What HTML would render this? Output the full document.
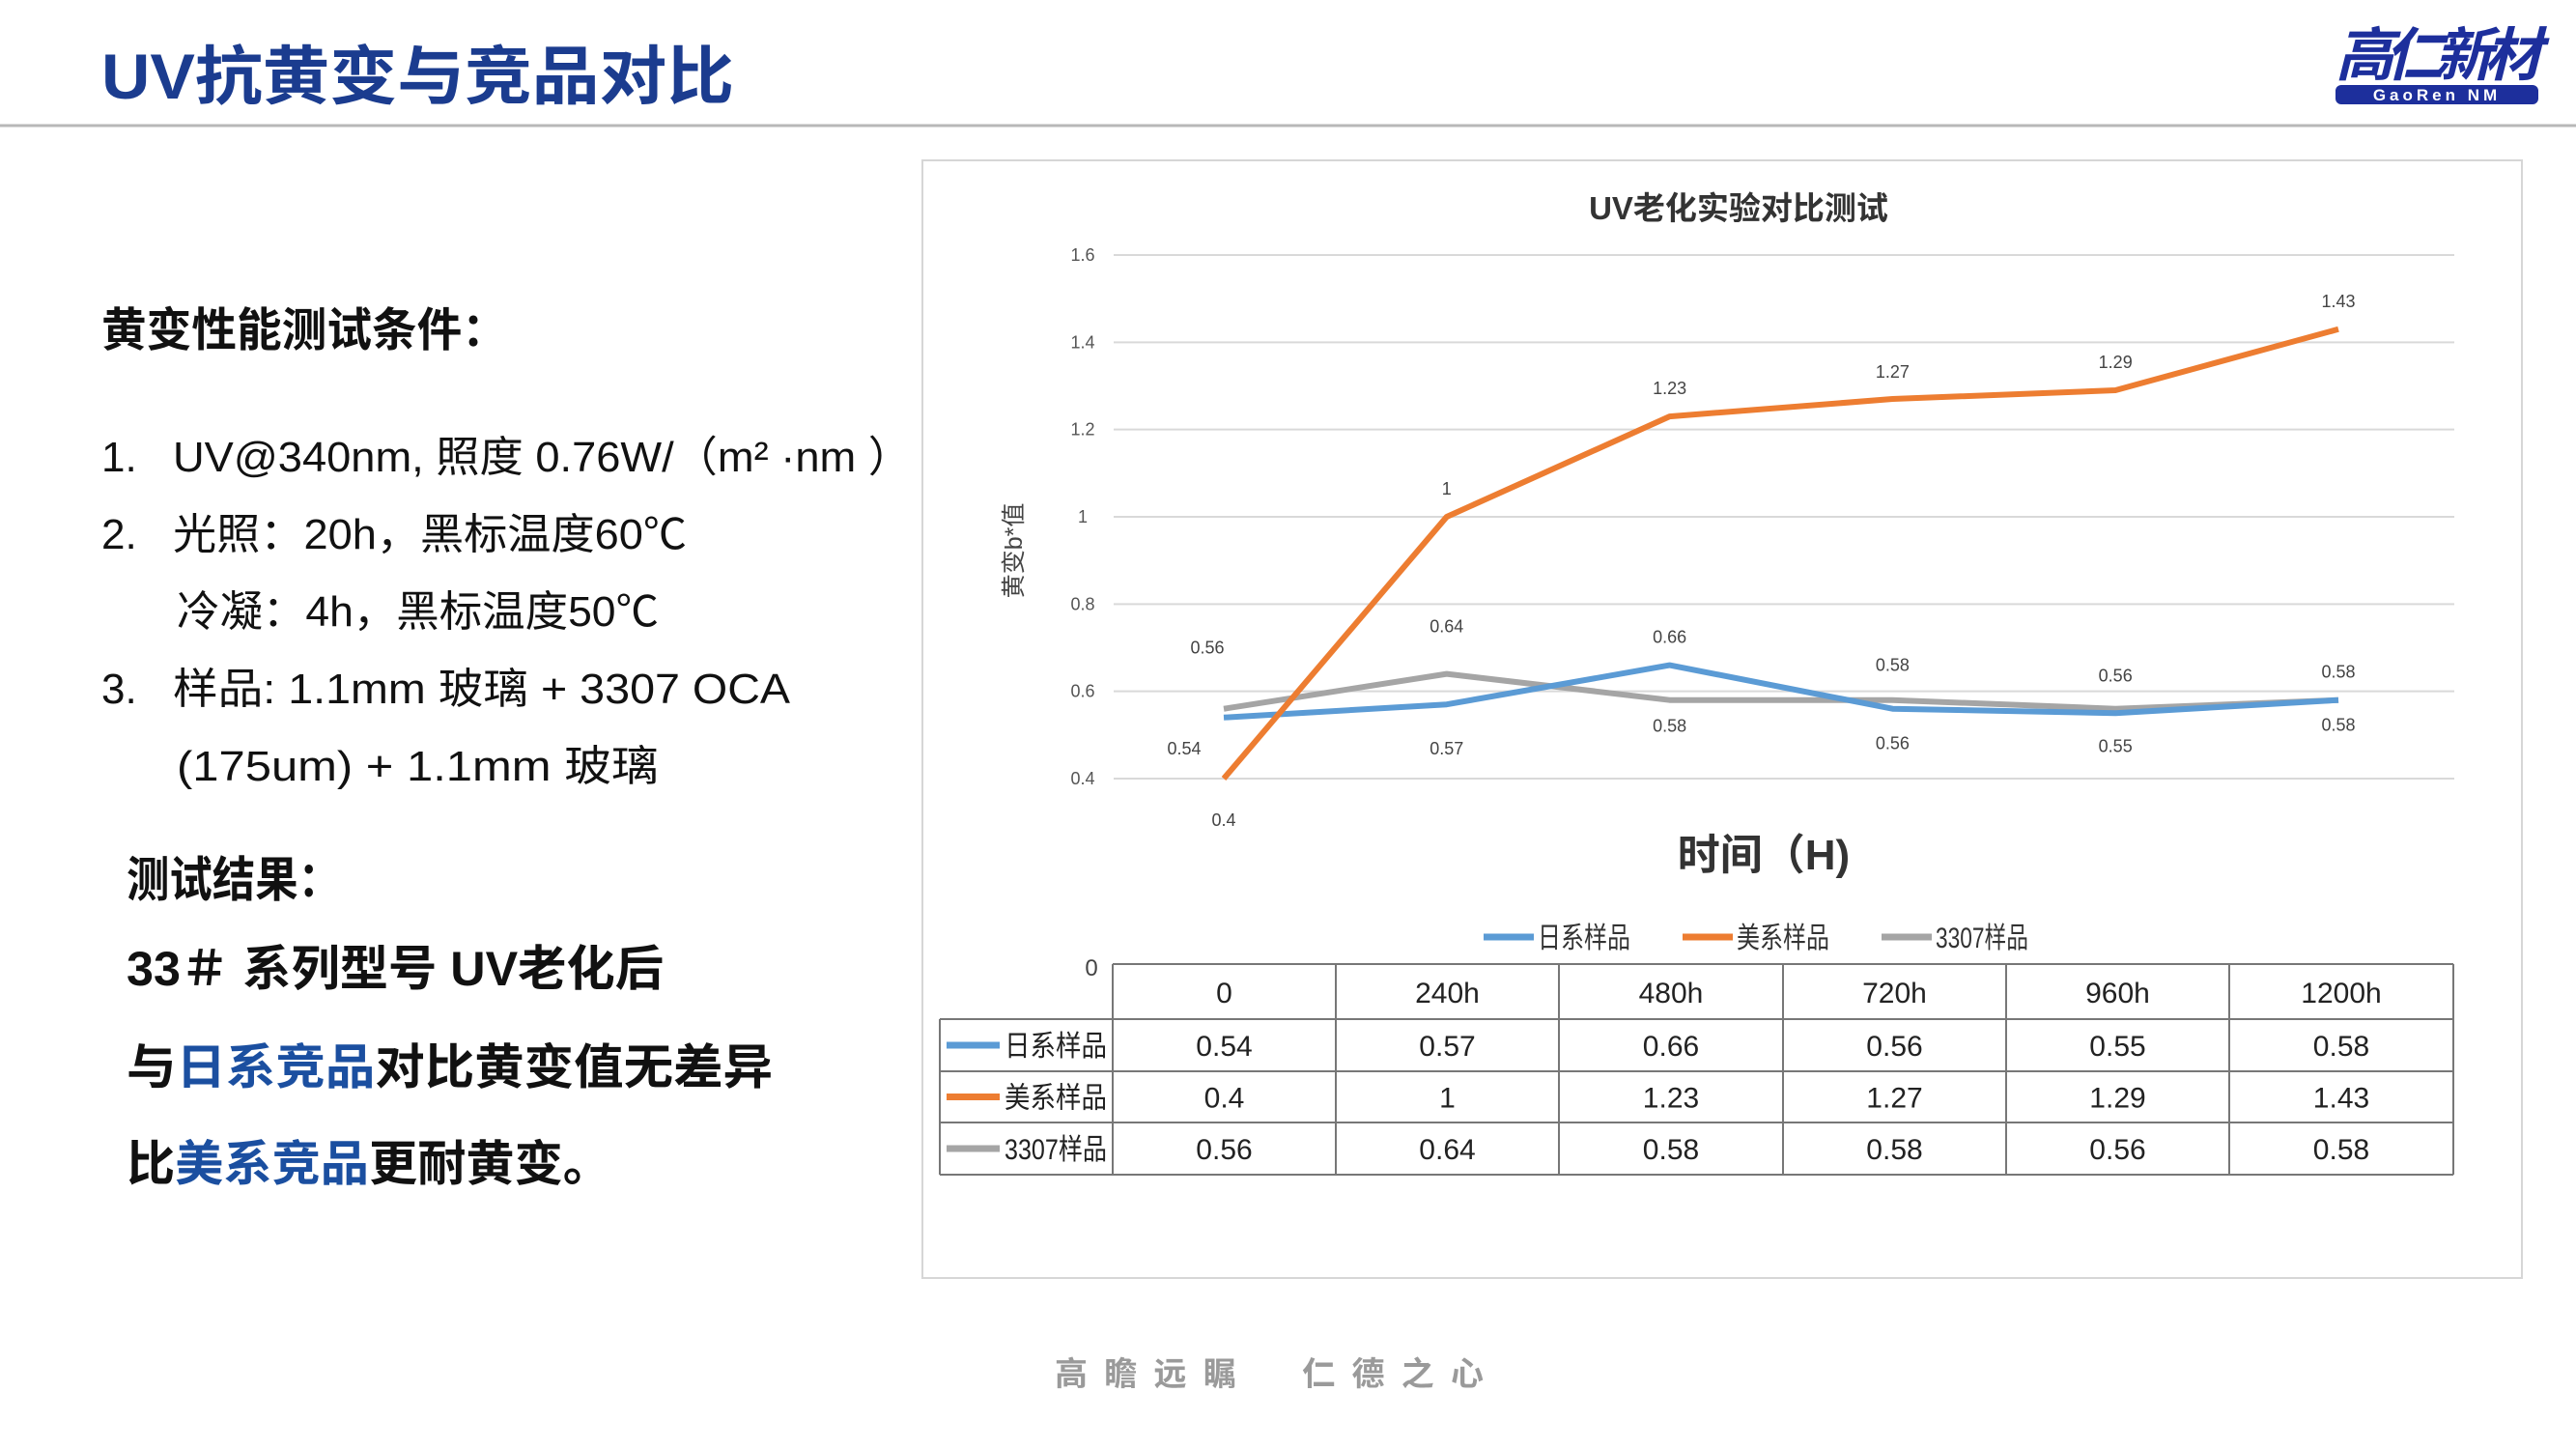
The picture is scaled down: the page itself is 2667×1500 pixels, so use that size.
<!DOCTYPE html>
<html><head><meta charset="utf-8">
<style>
body{margin:0;background:#fff;width:2667px;height:1500px;overflow:hidden;font-family:"Liberation Sans","Noto Sans CJK SC",sans-serif}
svg{position:absolute;left:0;top:0}
</style></head><body>
<svg id="pg" width="2667" height="1500" viewBox="0 0 2667 1500" xmlns="http://www.w3.org/2000/svg" font-family="Liberation Sans, Noto Sans CJK SC, sans-serif">
<g>
<text x="105" y="102" font-size="66" font-weight="bold" fill="#1b3c8f" textLength="655" lengthAdjust="spacingAndGlyphs">UV抗黄变与竞品对比</text>
<line x1="0" y1="130" x2="2667" y2="130" stroke="#b8b8b8" stroke-width="3"/>
<g>
<text x="2418" y="78" font-size="60" font-weight="bold" font-style="italic" fill="#1d2f9c" textLength="214">高仁新材</text>
<rect x="2418" y="88" width="210" height="20" rx="6" fill="#1d2f9c"/>
<text x="2523" y="104" font-size="17" font-weight="bold" fill="#fff" text-anchor="middle" letter-spacing="4">GaoRen NM</text>
</g>
</g>
<g fill="#111">
<text x="105" y="358" font-size="48" font-weight="bold" textLength="420" lengthAdjust="spacingAndGlyphs">黄变性能测试条件：</text>
<g font-size="44">
<text x="105" y="488">1.</text><text x="179" y="488" textLength="765" lengthAdjust="spacingAndGlyphs">UV@340nm, 照度  0.76W/（m² ·nm ）</text>
<text x="105" y="568">2.</text><text x="179" y="568" textLength="532" lengthAdjust="spacingAndGlyphs">光照：20h，黑标温度60℃</text>
<text x="183" y="648" textLength="499" lengthAdjust="spacingAndGlyphs">冷凝：4h，黑标温度50℃</text>
<text x="105" y="728">3.</text><text x="179" y="728" textLength="639" lengthAdjust="spacingAndGlyphs">样品: 1.1mm 玻璃 + 3307 OCA</text>
<text x="183" y="808" textLength="499" lengthAdjust="spacingAndGlyphs">(175um) + 1.1mm  玻璃</text>
</g>
</g>
<g font-weight="bold" font-size="50" fill="#111">
<text x="131" y="928" textLength="222" lengthAdjust="spacingAndGlyphs">测试结果：</text>
<text x="131" y="1020" textLength="556" lengthAdjust="spacingAndGlyphs">33＃ 系列型号 UV老化后</text>
<text x="131" y="1122" textLength="669" lengthAdjust="spacingAndGlyphs">与<tspan fill="#1b4fa0">日系竞品</tspan>对比黄变值无差异</text>
<text x="131" y="1222" textLength="502" lengthAdjust="spacingAndGlyphs">比<tspan fill="#1b4fa0">美系竞品</tspan>更耐黄变。</text>
</g>
<text x="1092" y="1434" font-size="34" font-weight="bold" fill="#9a9a9a" textLength="444" lengthAdjust="spacing">高瞻远瞩　仁德之心</text>
<rect x="955" y="166" width="1656" height="1157" fill="#fff" stroke="#d6d6d6" stroke-width="2"/>
<text x="1800" y="227" font-size="33" font-weight="bold" fill="#333" text-anchor="middle">UV老化实验对比测试</text>
<text transform="translate(1058,570) rotate(-90)" font-size="25" fill="#444" text-anchor="middle">黄变b*值</text>
<text x="1826" y="900" font-size="44" font-weight="bold" fill="#333" text-anchor="middle">时间（H)</text>
<g id="grid"></g><g id="lines"></g><g id="labels"></g>
<g id="legend"></g><g id="table"></g>
</svg>
<script>
const categories=["0","240h","480h","720h","960h","1200h"];
const seriesNames=["日系样品","美系样品","3307样品"];
const japanVals=[0.54,0.57,0.66,0.56,0.55,0.58];
const usVals=[0.4,1,1.23,1.27,1.29,1.43];
const oca3307Vals=[0.56,0.64,0.58,0.58,0.56,0.58];
const yTicks=[0.4,0.6,0.8,1,1.2,1.4,1.6];
const NS="http://www.w3.org/2000/svg";
const colors=["#5b9bd5","#ed7d31","#a5a5a5"];
const all=[japanVals,usVals,oca3307Vals];
function X(i){return 1267+i*230.8;}
function Y(v){return 806-(v-0.4)/1.2*542;}
function mk(tag,attrs,parent,txt){const e=document.createElementNS(NS,tag);for(const k in attrs)e.setAttribute(k,attrs[k]);if(txt!==undefined)e.textContent=txt;parent.appendChild(e);return e;}
const grid=document.getElementById('grid');
yTicks.forEach(t=>{
 const l=mk('line',{x1:1153,x2:2541,y1:Y(t),y2:Y(t),stroke:'#d9d9d9','stroke-width':2},grid);
 
 
 const tx=mk('text',{x:1121,y:Y(t)+6,'font-size':18,fill:'#555','text-anchor':'middle'},grid,String(t));
 
 
});
const lines=document.getElementById('lines'),labels=document.getElementById('labels');
const offs=[
 [[-41,32],[0,46],[0,-29],[0,36],[0,34],[0,26]],
 [[0,43],[0,-29],[0,-29],[0,-28],[0,-29],[0,-29]],
 [[-17,-63],[0,-49],[0,27],[0,-36],[0,-34],[0,-29]]];
const order=[2,0,1];
order.forEach(s=>{
 const vals=all[s];
 const p=mk('polyline',{points:vals.map((v,i)=>X(i)+','+Y(v)).join(' '),fill:'none',stroke:colors[s],'stroke-width':6,'stroke-linejoin':'round'},lines);
 
 
 vals.forEach((v,i)=>{
  const t=mk('text',{x:X(i)+offs[s][i][0],y:Y(v)+offs[s][i][1]+6,'font-size':18,fill:'#444','text-anchor':'middle'},labels,String(v));
  
  
 });
});
const lg=document.getElementById('legend');
const lx=[1536,1742,1948];
seriesNames.forEach((n,s)=>{
 const g=mk('g',{},lg);
 
 
 mk('line',{x1:lx[s],x2:lx[s]+52,y1:970,y2:970,stroke:colors[s],'stroke-width':7},g);
 mk('text',{x:lx[s]+56,y:981,'font-size':30,fill:'#333',textLength:96,lengthAdjust:'spacingAndGlyphs'},g,n);
});
const tb=document.getElementById('table');
const cols=[973,1152,1383,1614,1846,2077,2308,2540];
const rows=[998,1055,1109,1162,1216];
mk('text',{x:1130,y:1010,'font-size':24,fill:'#444','text-anchor':'middle'},tb,'0');
const st={stroke:'#777','stroke-width':2};
mk('line',Object.assign({x1:1152,x2:2540,y1:998,y2:998},st),tb);
for(let r=1;r<rows.length;r++)mk('line',Object.assign({x1:973,x2:2540,y1:rows[r],y2:rows[r]},st),tb);
mk('line',Object.assign({x1:973,x2:973,y1:1055,y2:1216},st),tb);
for(let c=1;c<cols.length;c++)mk('line',Object.assign({x1:cols[c],x2:cols[c],y1:998,y2:1216},st),tb);
categories.forEach((c,i)=>{
 const t=mk('text',{x:(cols[i+1]+cols[i+2])/2,y:1038,'font-size':30,fill:'#222','text-anchor':'middle'},tb,c);
 
 
});
all.forEach((vals,s)=>{
 const cy=(rows[s+1]+rows[s+2])/2;
 mk('line',{x1:980,x2:1035,y1:cy,y2:cy,stroke:colors[s],'stroke-width':7},tb);
 mk('text',{x:1040,y:cy+11,'font-size':30,fill:'#222',textLength:106,lengthAdjust:'spacingAndGlyphs'},tb,seriesNames[s]);
 vals.forEach((v,i)=>{
  const t=mk('text',{x:(cols[i+1]+cols[i+2])/2,y:cy+11,'font-size':30,fill:'#222','text-anchor':'middle'},tb,String(v));
  
  
 });
});
</script>
</body></html>
